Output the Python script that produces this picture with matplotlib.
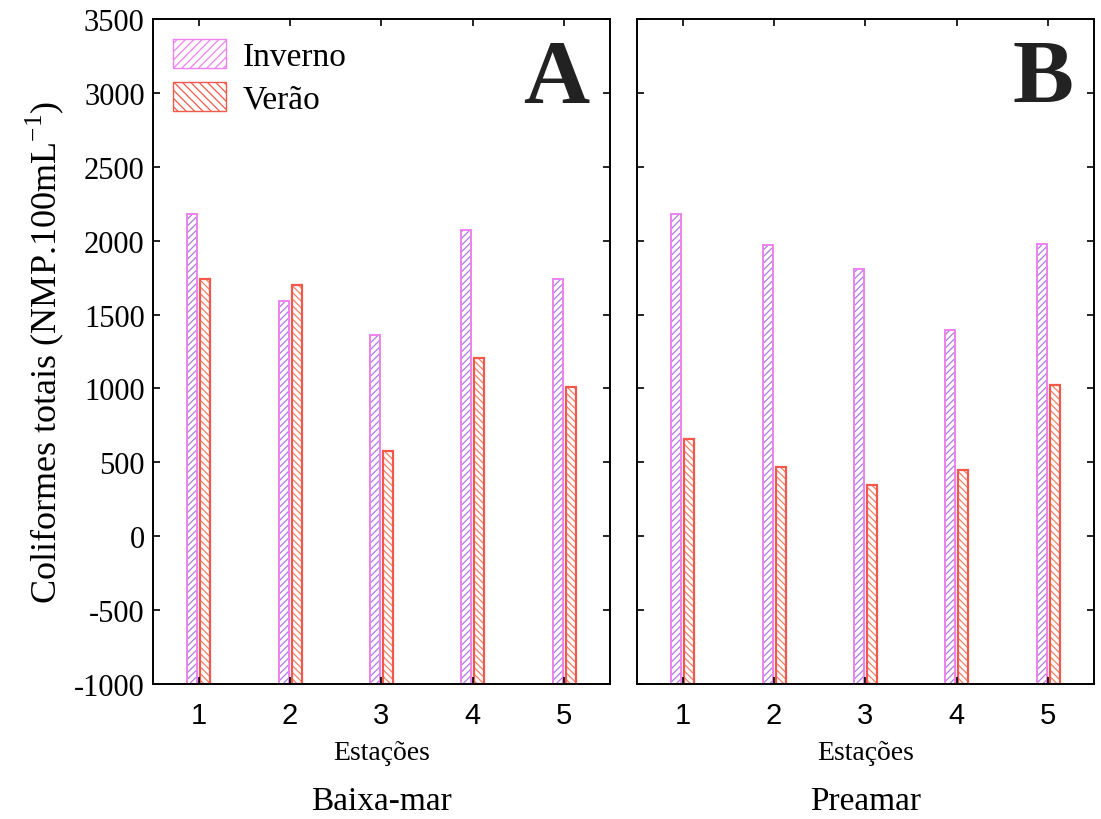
import numpy as np
import matplotlib
matplotlib.use("Agg")
import matplotlib.pyplot as plt
from matplotlib.patches import Patch

# data
estacoes = [1, 2, 3, 4, 5]
baixa_inverno = [2180, 1595, 1360, 2075, 1740]
baixa_verao = [1740, 1700, 580, 1205, 1010]
prea_inverno = [2178, 1970, 1805, 1395, 1980]
prea_verao = [655, 470, 350, 450, 1025]
panels = ["A", "B"]
titles = ["Baixa-mar", "Preamar"]

ymin, ymax = -1000, 3500
inv_edge, inv_hatch = "#ee82ee", "#b27ae6"
ver_edge, ver_hatch = "#f2594a", "#f08068"

plt.rcParams["font.family"] = "Liberation Serif"
plt.rcParams["hatch.linewidth"] = 0.9
plt.rcParams["axes.unicode_minus"] = False

fig = plt.figure(figsize=(11.01, 8.2), dpi=100)
axA = fig.add_axes([0.139, 0.1646, 0.415, 0.811])
axB = fig.add_axes([0.5786, 0.1646, 0.415, 0.811])

def hbar(ax, xs, vals, w, edge, hatch_c, hatch, lw):
	# hatch drawn in its own colour, then the outline on top
	ax.bar(xs, vals - ymin, bottom=ymin, width=w, color="white",
		   edgecolor=hatch_c, hatch=hatch, linewidth=0)
	ax.bar(xs, vals - ymin, bottom=ymin, width=w, fill=False,
		   edgecolor=edge, linewidth=lw)

x = np.array(estacoes)
w = 0.11
for ax, inv, ver, lab, title in zip([axA, axB], [baixa_inverno, prea_inverno],
									[baixa_verao, prea_verao], panels, titles):
	hbar(ax, x - 0.072, np.array(inv), w, inv_edge, inv_hatch, "/////", 1.4)
	hbar(ax, x + 0.072, np.array(ver), w, ver_edge, ver_hatch, "\\\\\\\\\\", 1.6)
	ax.set_xlim(0.5, 5.5)
	ax.set_ylim(ymin, ymax)
	ax.set_yticks(np.arange(-1000, 3501, 500))
	ax.set_xticks(x)
	ax.set_xticklabels([str(e) for e in estacoes], family="Liberation Sans", fontsize=21)
	ax.tick_params(direction="in", top=True, right=True, length=5, width=1.2,
				   labelsize=21, pad=12)
	ax.tick_params(axis="y", labelsize=22, pad=6)
	for s in ax.spines.values():
		s.set_linewidth(1.4)
	ax.set_xlabel("Estações", fontsize=20, labelpad=8)
	ax.text(0.5, -0.175, title, transform=ax.transAxes, ha="center", va="center",
			fontsize=24)
	ax.text(0.955, 0.97, lab, transform=ax.transAxes, ha="right", va="top",
			fontsize=66, fontweight="bold", color="#222222")

axB.tick_params(labelleft=False)
axA.set_ylabel("Coliformes totais (NMP.100mL$^{\\mathregular{-1}}$)", fontsize=26, labelpad=6)

handles = [Patch(facecolor="white", edgecolor=inv_edge, hatch="////", label="Inverno"),
		   Patch(facecolor="white", edgecolor=ver_edge, hatch="\\\\\\\\", label="Verão")]
axA.legend(handles=handles, loc="upper left", frameon=False, fontsize=24,
		   handlelength=1.6, handleheight=0.95, borderaxespad=0.2, labelspacing=0.3,
		   handletextpad=0.5, borderpad=0.4)

fig.savefig("out.png", dpi=100)
